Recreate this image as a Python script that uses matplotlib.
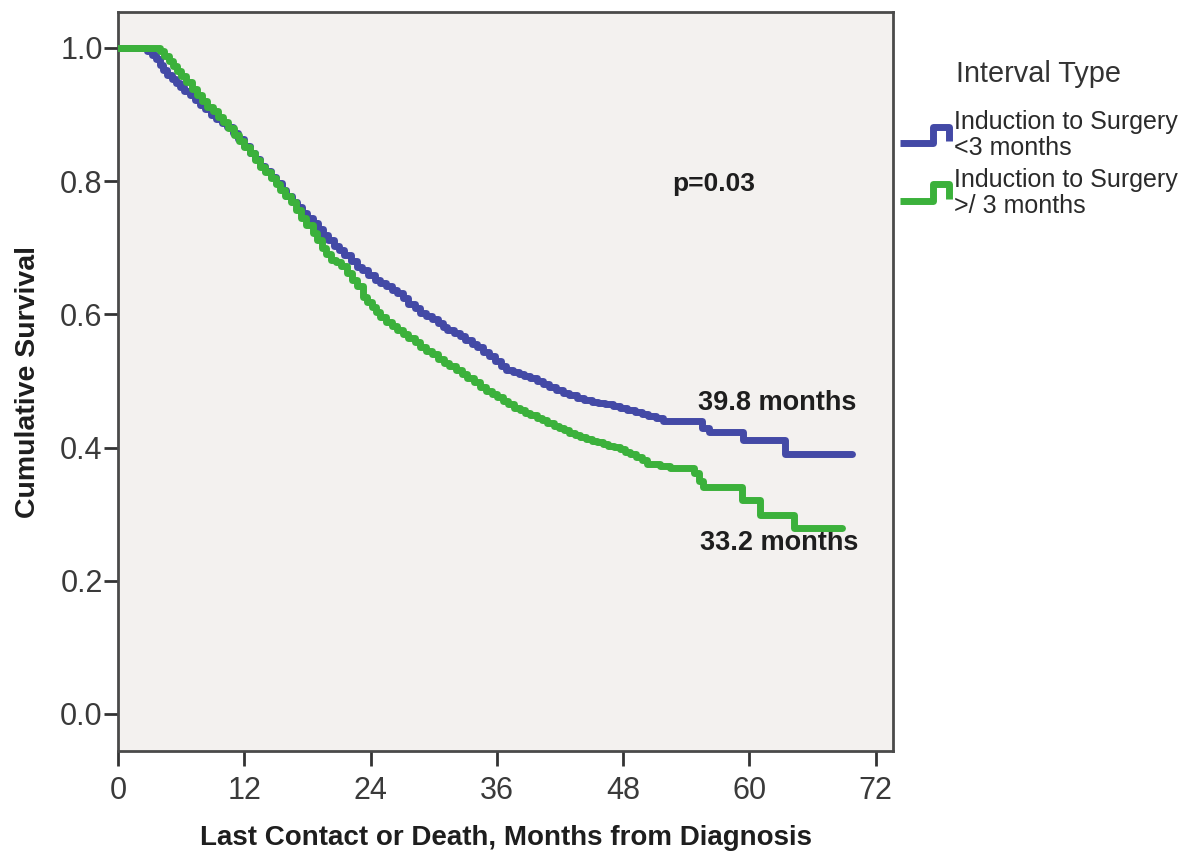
import matplotlib
matplotlib.use("Agg")
import matplotlib.pyplot as plt
from matplotlib.lines import Line2D
from matplotlib.legend_handler import HandlerBase
import numpy as np

plt.rcParams['font.family'] = ['Liberation Sans', 'DejaVu Sans']

# ---------------- data ----------------
group_labels = ["Induction to Surgery\n<3 months", "Induction to Surgery\n>/ 3 months"]

blue_time = [0, 2.8, 3.2, 3.6, 4.0, 4.3, 4.7, 5.1, 5.5, 5.9, 6.3, 6.8, 7.3, 7.8, 8.3,
             8.8, 9.3, 9.9, 10.4, 10.9, 11.4, 12.0, 12.5, 13.0, 13.5, 14.0, 14.5,
             15.0, 15.6, 16.0, 16.5, 17.0, 17.5, 18.0, 18.5, 19.0, 19.5, 20.0, 20.5,
             21.0, 21.5, 22.1, 22.7, 23.2, 23.8, 24.4, 24.9, 25.5, 26.0, 26.5, 27.1,
             27.6, 28.2, 28.7, 29.3, 29.8, 30.4, 30.9, 31.3, 31.9, 32.5, 33.0, 33.6,
             34.1, 34.7, 35.3, 35.8, 36.4, 36.9, 37.5, 38.1, 38.6, 39.2, 39.8, 40.4,
             41.0, 41.6, 42.3, 42.9, 43.6, 44.3, 45.0, 45.6, 46.3, 47.0, 47.7, 48.4,
             49.1, 49.8, 50.4, 51.1, 51.8, 55.5, 56.2, 59.4, 63.4, 69.8]
blue_surv = [1.0, 0.995, 0.99, 0.983, 0.975, 0.967, 0.96, 0.953, 0.947, 0.941, 0.936,
             0.929, 0.922, 0.915, 0.908, 0.900, 0.894, 0.887, 0.881, 0.872, 0.863,
             0.853, 0.843, 0.833, 0.823, 0.815, 0.806, 0.797, 0.786, 0.778, 0.769,
             0.761, 0.752, 0.745, 0.737, 0.728, 0.719, 0.711, 0.703, 0.696, 0.689,
             0.680, 0.671, 0.666, 0.659, 0.652, 0.647, 0.642, 0.637, 0.632, 0.624,
             0.616, 0.609, 0.602, 0.597, 0.593, 0.587, 0.581, 0.577, 0.572, 0.567,
             0.562, 0.556, 0.551, 0.544, 0.537, 0.530, 0.523, 0.517, 0.514, 0.511,
             0.508, 0.505, 0.500, 0.496, 0.491, 0.487, 0.482, 0.479, 0.475, 0.472,
             0.469, 0.467, 0.465, 0.462, 0.460, 0.457, 0.454, 0.451, 0.448, 0.444,
             0.440, 0.430, 0.423, 0.411, 0.390, 0.390]

green_time = [0, 4.0, 4.4, 4.8, 5.2, 5.6, 6.0, 6.5, 7.0, 7.5, 8.0, 8.5, 9.0, 9.5, 10.0,
              10.5, 11.0, 11.5, 12.0, 12.5, 13.0, 13.5, 14.0, 14.5, 15.0, 15.4, 15.9,
              16.4, 16.9, 17.4, 17.9, 18.5, 18.9, 19.4, 19.8, 20.2, 20.7, 21.2, 21.8,
              22.2, 22.7, 23.3, 23.7, 24.1, 24.5, 24.9, 25.5, 26.0, 26.5, 27.1, 27.6,
              28.2, 28.7, 29.3, 29.8, 30.4, 31.0, 31.5, 32.1, 32.7, 33.2, 33.8, 34.4,
              35.0, 35.5, 36.0, 36.6, 37.1, 37.6, 38.2, 38.7, 39.2, 39.8, 40.3, 40.8,
              41.4, 41.9, 42.4, 42.9, 43.4, 43.9, 44.5, 45.0, 45.5, 46.1, 46.6, 47.1,
              47.7, 48.2, 48.7, 49.2, 49.8, 50.3, 51.5, 52.5, 54.7, 55.2, 55.6, 59.3,
              61.0, 64.2, 68.8]
green_surv = [1.0, 0.995, 0.988, 0.981, 0.973, 0.966, 0.958, 0.949, 0.939, 0.929, 0.920,
              0.912, 0.905, 0.897, 0.889, 0.880, 0.870, 0.861, 0.852, 0.842, 0.832,
              0.822, 0.814, 0.805, 0.795, 0.787, 0.778, 0.768, 0.757, 0.745, 0.734,
              0.722, 0.711, 0.700, 0.691, 0.682, 0.678, 0.672, 0.662, 0.652, 0.642,
              0.626, 0.618, 0.611, 0.603, 0.596, 0.589, 0.583, 0.577, 0.571, 0.564,
              0.558, 0.551, 0.545, 0.540, 0.533, 0.527, 0.522, 0.517, 0.511, 0.505,
              0.498, 0.491, 0.485, 0.480, 0.476, 0.470, 0.465, 0.460, 0.456, 0.452,
              0.449, 0.445, 0.441, 0.437, 0.433, 0.429, 0.426, 0.422, 0.419, 0.416,
              0.413, 0.410, 0.408, 0.405, 0.403, 0.401, 0.398, 0.394, 0.390, 0.386,
              0.381, 0.376, 0.372, 0.369, 0.362, 0.350, 0.341, 0.321, 0.299, 0.279,
              0.279]

x_ticks = [0, 12, 24, 36, 48, 60, 72]
y_ticks = [0.0, 0.2, 0.4, 0.6, 0.8, 1.0]

median_labels = ["39.8 months", "33.2 months"]
median_label_pos = [(62.6, 0.467), (62.8, 0.257)]
p_text = "p=0.03"
p_pos = (56.6, 0.796)

# ---------------- styling ----------------
BLUE = "#4349A6"
GREEN = "#3BB13B"
W, H = 1196, 857

fig = plt.figure(figsize=(W / 100, H / 100), dpi=100)
fig.patch.set_facecolor("white")
ax = fig.add_axes([118 / W, 106 / H, (893 - 118) / W, (751 - 12) / H])
ax.set_facecolor("#F3F1EF")

ax.step(blue_time, blue_surv, where="post", color=BLUE, lw=5,
        solid_joinstyle="round", solid_capstyle="round", zorder=3)
ax.step(green_time, green_surv, where="post", color=GREEN, lw=5,
        solid_joinstyle="round", solid_capstyle="round", zorder=4)

ax.set_xlim(0, 73.65)
ax.set_ylim(-0.0556, 1.054)
ax.set_xticks(x_ticks)
ax.set_xticklabels([str(v) for v in x_ticks])
ax.set_yticks(y_ticks)
ax.set_yticklabels([f"{v:.1f}" for v in y_ticks])

for s in ax.spines.values():
    s.set_color("#4a4a4a")
    s.set_linewidth(2)

ax.tick_params(axis="y", length=10, width=2, pad=1, color="#333333",
               labelsize=22, labelcolor="#3a3a3a")
ax.tick_params(axis="x", length=11, width=2, pad=7, color="#333333",
               labelsize=22, labelcolor="#3a3a3a")

ax.set_xlabel("Last Contact or Death, Months from Diagnosis", fontsize=20,
              fontweight="bold", color="#1e1e1e", labelpad=14)
ax.set_ylabel("Cumulative Survival", fontsize=20.5, fontweight="bold",
              color="#1e1e1e", labelpad=14)

ax.text(p_pos[0], p_pos[1], p_text, fontsize=19, fontweight="bold",
        ha="center", va="center", color="#1e1e1e")
for lab, (tx, ty) in zip(median_labels, median_label_pos):
    ax.text(tx, ty, lab, fontsize=19.5, fontweight="bold", ha="center",
            va="center", color="#1e1e1e")


class StepHandler(HandlerBase):
    def create_artists(self, legend, orig_handle, xdescent, ydescent, width,
                       height, fontsize, trans):
        xs = np.array([0, 0.66, 0.66, 0.97, 0.97]) * width - xdescent
        ys = np.array([0.1, 0.1, 1.0, 1.0, 0.2]) * height - ydescent
        ln = Line2D(xs, ys, color=orig_handle.get_color(), lw=5,
                    solid_joinstyle="round", solid_capstyle="butt",
                    transform=trans)
        return [ln]


handles = [Line2D([], [], color=BLUE), Line2D([], [], color=GREEN)]
leg = fig.legend(handles, group_labels, title="Interval Type",
                 loc="upper left", bbox_to_anchor=(900 / W, 1 - 60 / H),
                 frameon=False, borderpad=0, borderaxespad=0,
                 handlelength=2.0, handleheight=0.75, handletextpad=0.15,
                 labelspacing=0.3, prop={"size": 18},
                 title_fontsize=20.8, handler_map={Line2D: StepHandler()})
for t in leg.get_texts():
    t.set_color("#2a2a2a")
    t.set_linespacing(1.1)
leg.get_title().set_color("#333333")
leg._legend_box.sep = 16

fig.savefig("out.png", dpi=100)
